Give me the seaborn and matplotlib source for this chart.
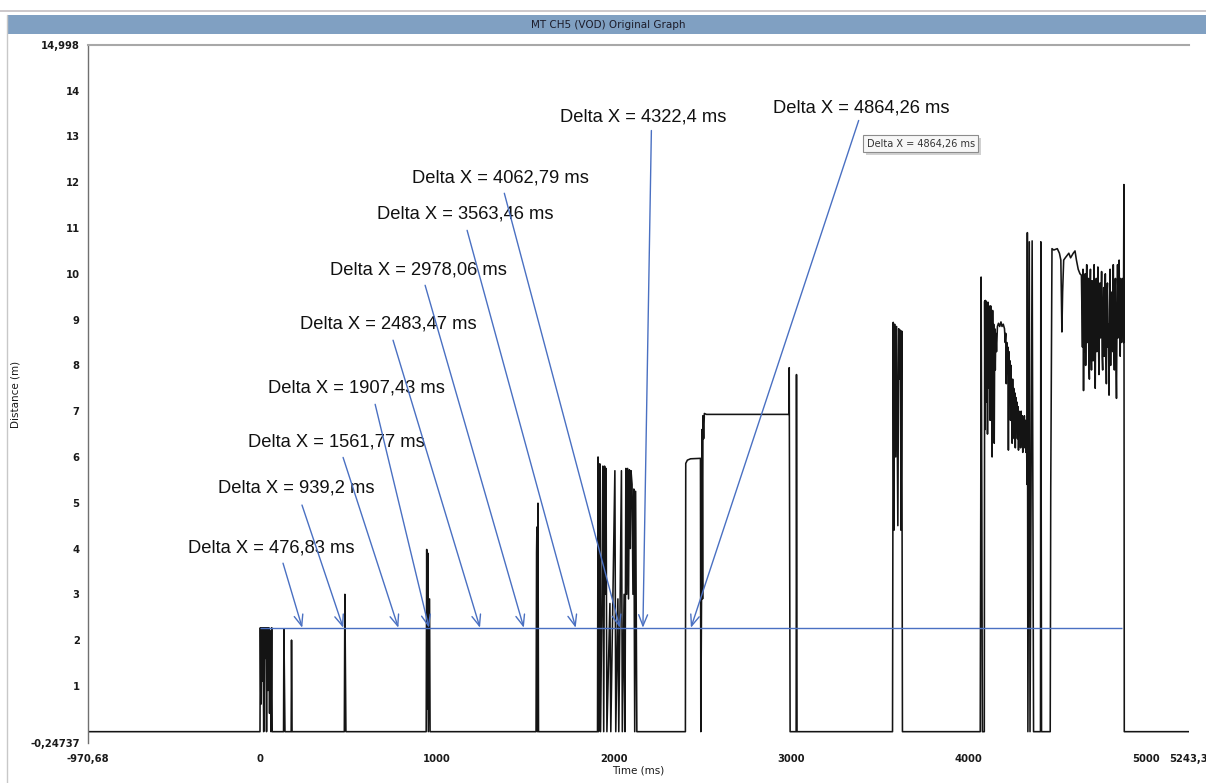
import matplotlib
matplotlib.use("Agg")
import matplotlib.pyplot as plt
import matplotlib.patheffects as pe
from matplotlib.lines import Line2D
import pandas as pd
import seaborn as sns

# ---------------- data ----------------
# Distance signal of channel 5 as (time in ms, distance in m), split by burst
burst_start = [
    (-970.68, 0), (0, 0),
    (2, 2.27), (5, 0.6), (9, 2.27), (13, 1.1), (17, 2.27), (21, 0), (25, 2.27),
    (29, 1.6), (33, 2.27), (37, 0), (41, 2.27), (45, 0.9), (50, 2.27), (54, 0.4),
    (58, 2.2), (62, 0), (66, 2.27), (69, 0),
    (133, 0), (135, 2.24), (138, 1.08), (141, 0), (176, 0), (178, 2.0), (181, 0),
    (476, 0), (479, 3.0), (482, 1.5), (485, 0),
    (938, 0), (941, 3.98), (944, 0.5), (947, 3.9), (950, 0), (957, 2.9), (960, 0),
    (1558, 0), (1561, 3.92), (1563, 4.47), (1566, 0), (1569, 4.99), (1572, 0),
]
burst_2s = [
    (1905, 0), (1908, 6.0), (1911, 0), (1915, 2.9), (1918, 5.85), (1922, 0),
    (1930, 3.0), (1935, 5.8), (1940, 0), (1945, 5.8), (1950, 3.0), (1953, 5.75),
    (1958, 0), (1975, 2.8), (1980, 0), (2003, 5.7), (2008, 0), (2020, 2.9),
    (2025, 0), (2040, 5.7), (2045, 0), (2055, 3.0), (2060, 0), (2065, 5.75),
    (2070, 3.0), (2075, 5.75), (2080, 2.9), (2085, 5.72), (2090, 4.0), (2094, 5.7),
    (2100, 5.4), (2105, 3.0), (2110, 5.3), (2115, 0), (2120, 5.25), (2127, 0),
]
plateau_3s = [
    (2401, 0), (2403, 5.86), (2412, 5.93), (2430, 5.96), (2486, 5.97), (2488, 0),
    (2492, 2.9), (2495, 6.6), (2498, 2.9), (2500, 6.9), (2504, 6.4), (2508, 6.95),
    (2520, 6.93), (2985, 6.93), (2987, 7.95), (2990, 3.46), (2992, 0), (3026, 0),
    (3028, 7.8), (3031, 0),
    (3570, 0), (3574, 8.94), (3578, 4.4), (3582, 8.9), (3588, 6.0), (3593, 8.85),
    (3600, 4.5), (3605, 8.8), (3610, 7.7), (3614, 8.77), (3618, 4.4), (3622, 8.75),
    (3626, 0),
]
burst_4s = [
    (4065, 0), (4068, 4.99), (4070, 9.93), (4074, 5.0), (4077, 0), (4088, 0),
    (4090, 9.4), (4092, 6.6), (4094, 9.42), (4097, 7.8), (4099, 9.4), (4101, 7.2),
    (4104, 9.35), (4106, 6.5), (4109, 9.38), (4111, 8.0), (4114, 9.3), (4116, 7.5),
    (4119, 9.25), (4121, 6.8), (4124, 9.3), (4127, 8.2), (4130, 9.1), (4132, 6.0),
    (4135, 9.2), (4138, 7.7), (4141, 8.9), (4144, 6.3), (4147, 8.8), (4150, 7.9),
    (4153, 8.7), (4157, 8.3), (4162, 8.85), (4168, 8.92), (4175, 8.85), (4182, 8.95),
    (4188, 8.85), (4195, 8.9), (4202, 8.8), (4206, 8.5), (4209, 8.7), (4212, 7.6),
    (4215, 8.5), (4218, 8.0), (4221, 8.4), (4224, 6.15), (4227, 8.3), (4230, 7.2),
    (4233, 8.1), (4236, 6.8), (4239, 8.0), (4242, 7.0), (4245, 6.3), (4248, 7.7),
    (4251, 6.9), (4254, 7.5), (4257, 6.4), (4260, 7.4), (4263, 6.2), (4266, 7.3),
    (4269, 6.6), (4272, 7.2), (4275, 6.4), (4278, 7.1), (4281, 6.15), (4284, 7.0),
    (4287, 6.5), (4290, 6.9), (4293, 6.2), (4296, 7.0), (4299, 6.3), (4302, 6.9),
    (4305, 6.1), (4308, 6.8), (4311, 6.4), (4314, 6.9), (4317, 6.2), (4320, 6.8),
    (4323, 6.1), (4326, 6.7), (4329, 5.4),
    (4331, 10.9), (4334, 0), (4338, 5.4), (4342, 10.7), (4346, 0), (4352, 5.4),
    (4358, 10.72), (4362, 5.38), (4366, 0), (4405, 0), (4407, 10.7), (4409, 5.35),
    (4411, 0), (4460, 0), (4463, 5.3),
]
burst_5s = [
    (4470, 10.55), (4480, 10.52), (4500, 10.55), (4512, 10.45), (4520, 10.3),
    (4526, 8.73), (4530, 9.6), (4536, 10.3), (4545, 10.35), (4555, 10.4),
    (4565, 10.45), (4575, 10.35), (4590, 10.45), (4600, 10.5), (4608, 10.3),
    (4618, 10.1), (4628, 10.0), (4636, 9.97),
    (4642, 8.4), (4645, 10.1), (4648, 7.45), (4651, 9.6), (4654, 8.3), (4657, 10.0),
    (4660, 8.0), (4663, 9.4), (4666, 10.2), (4669, 8.5), (4672, 9.3), (4675, 9.9),
    (4678, 8.1), (4681, 7.7), (4684, 9.5), (4687, 10.1), (4690, 8.6), (4693, 7.9),
    (4696, 9.85), (4699, 8.8), (4702, 8.1), (4705, 9.6), (4708, 10.2), (4711, 8.4),
    (4714, 7.5), (4717, 9.2), (4720, 9.9), (4723, 8.3), (4726, 9.0), (4729, 10.15),
    (4732, 8.7), (4735, 7.8), (4738, 9.4), (4741, 9.8), (4744, 8.6), (4747, 9.1),
    (4750, 10.05), (4753, 8.2), (4756, 7.9), (4759, 9.3), (4762, 9.7), (4765, 8.2),
    (4768, 9.0), (4771, 10.0), (4774, 8.5), (4777, 7.6), (4780, 9.5), (4783, 9.8),
    (4786, 8.4), (4789, 8.9), (4792, 7.35), (4795, 9.2), (4798, 10.1), (4801, 8.0),
    (4804, 9.4), (4807, 9.6), (4810, 8.8), (4813, 8.3), (4816, 10.2), (4819, 8.6),
    (4822, 7.9), (4825, 9.5), (4828, 9.9), (4831, 8.1), (4834, 7.28), (4837, 9.0),
    (4840, 10.2), (4843, 8.6), (4846, 9.3), (4849, 10.3), (4852, 8.9), (4855, 8.2),
    (4858, 9.9), (4861, 8.5), (4864, 9.6), (4867, 8.7), (4870, 9.9), (4873, 8.5),
    (4876, 11.95), (4878, 0), (5243.3, 0),
]

# Cursor measurements (ms); each arrow marks the middle of its span from 0
delta_x = [476.83, 939.2, 1561.77, 1907.43, 2483.47, 2978.06, 3563.46, 4062.79, 4322.4, 4864.26]
delta_text = ["476,83", "939,2", "1561,77", "1907,43", "2483,47",
              "2978,06", "3563,46", "4062,79", "4322,4", "4864,26"]
ref_level = 2.27

x_ticks = [-970.68, 0, 1000, 2000, 3000, 4000, 5000, 5243.3]
x_tick_labels = ["-970,68", "0", "1000", "2000", "3000", "4000", "5000", "5243,3"]
x_minor = [-500, 500, 1500, 2500, 3500, 4500]
y_ticks = [-0.24737] + list(range(1, 15)) + [14.998]
y_tick_labels = ["-0,24737"] + [str(v) for v in range(1, 15)] + ["14,998"]
y_minor = [v + 0.5 for v in range(0, 15)]

# label placement (data coords): text anchor and arrow tail
label_pos = [(-407, 4.01), (-237, 5.32), (-68, 6.32), (45, 7.5), (226, 8.9),
             (395, 10.08), (661, 11.3), (859, 12.09), (1695, 13.42), (2898, 13.62)]
tail_pos = [(130, 3.68), (237, 4.95), (469, 5.99), (650, 7.15), (751, 8.55),
            (932, 9.75), (1169, 10.95), (1379, 11.76), (2209, 13.13), (3379, 13.35)]

# ---------------- drawing ----------------
sns.set_style("white")
plt.rcParams["font.family"] = ["DejaVu Sans"]

W, H = 1206, 783
fig = plt.figure(figsize=(W / 100, H / 100), dpi=100)
fig.patch.set_facecolor("white")

# window frame and title band
fig.add_artist(Line2D([0, 1], [1 - 11 / H, 1 - 11 / H], color="#c4bfc2", lw=1.2))
fig.add_artist(Line2D([7 / W, 7 / W], [0, 1 - 15 / H], color="#c8c8c8", lw=1.0))
band = plt.Rectangle((8 / W, 1 - 34 / H), 1 - 8 / W, 19 / H, transform=fig.transFigure,
                     facecolor="#80a0c2", edgecolor="none")
fig.add_artist(band)
fig.text(608 / W, 1 - 24.5 / H, "MT CH5 (VOD) Original Graph", ha="center", va="center",
         fontsize=7.5, color="#1c1c2a")

ax = fig.add_axes([88 / W, 1 - 743 / H, (1189 - 88) / W, (743 - 45) / H])
points = burst_start + burst_2s + plateau_3s + burst_4s + burst_5s
df = pd.DataFrame(points, columns=["t", "d"])
sns.lineplot(data=df, x="t", y="d", ax=ax, sort=False, estimator=None,
             color="#141414", lw=1.15)

blue = "#4a70c2"
ax.hlines(ref_level, 0, delta_x[-1], color=blue, lw=1.0)
for dx, txt, lp, tp in zip(delta_x, delta_text, label_pos, tail_pos):
    ax.annotate("", xy=(dx / 2, ref_level), xytext=tp,
                arrowprops=dict(arrowstyle="->,head_length=0.8,head_width=0.32",
                                color=blue, lw=1.0, shrinkA=0, shrinkB=0,
                                mutation_scale=10))
    ax.text(lp[0], lp[1], f"Delta X = {txt} ms", ha="left", va="center",
            fontsize=13.2, family="Liberation Sans", color="#111111")

tip = ax.text(3425, 12.84, "Delta X = 4864,26 ms", ha="left", va="center",
              fontsize=7, color="#333333",
              bbox=dict(boxstyle="square,pad=0.35", fc="#f7f7f7", ec="#8c8c8c", lw=0.8))
tip.get_bbox_patch().set_path_effects([pe.withSimplePatchShadow(offset=(2, -2), alpha=0.25)])

ax.set_xlim(x_ticks[0], x_ticks[-1])
ax.set_ylim(y_ticks[0], y_ticks[-1])
ax.set_xticks(x_ticks, x_tick_labels)
ax.set_xticks(x_minor, minor=True)
ax.set_yticks(y_ticks, y_tick_labels)
ax.set_yticks(y_minor, minor=True)
ax.tick_params(axis="both", which="both", direction="out", colors="#555555",
               labelcolor="#1a1a1a", labelsize=7.2)
ax.tick_params(axis="y", which="major", length=5, width=1, pad=1)
ax.tick_params(axis="y", which="minor", length=3, width=1)
ax.tick_params(axis="x", which="major", length=5, width=1, pad=3)
ax.tick_params(axis="x", which="minor", length=3, width=1)
for lbl in ax.get_xticklabels() + ax.get_yticklabels():
    lbl.set_fontweight("bold")

for side in ("right", "bottom"):
    ax.spines[side].set_visible(False)
ax.spines["top"].set_color("#a8a8a8")
ax.spines["top"].set_linewidth(1.5)
ax.spines["left"].set_color("#707070")
ax.spines["left"].set_linewidth(1.0)

ax.set_xlabel("Time (ms)", fontsize=7.5, color="#1a1a1a", labelpad=1)
ax.set_ylabel("Distance (m)", fontsize=7.5, color="#1a1a1a")
ax.yaxis.set_label_coords((20 - 88) / (1189 - 88), 0.5)

fig.savefig("out.png", dpi=100)
